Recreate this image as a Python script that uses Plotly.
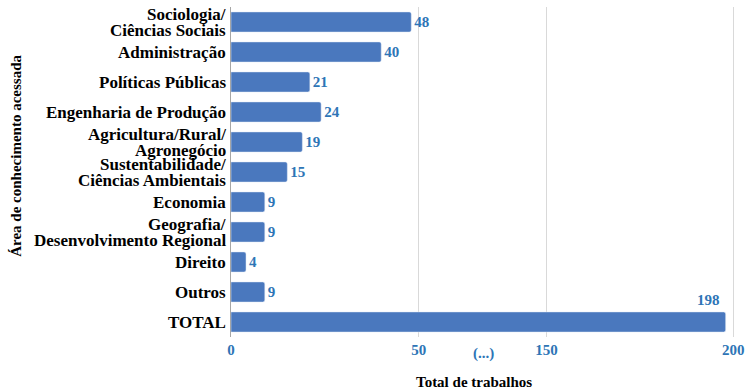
import plotly.graph_objects as go

categories = [
    "Sociologia/<br>Ciências Sociais",
    "Administração",
    "Políticas Públicas",
    "Engenharia de Produção",
    "Agricultura/Rural/<br>Agronegócio",
    "Sustentabilidade/<br>Ciências Ambientais",
    "Economia",
    "Geografia/<br>Desenvolvimento Regional",
    "Direito",
    "Outros",
    "TOTAL",
]
values = [48, 40, 21, 24, 19, 15, 9, 9, 4, 9, 198]
left_ticks = [0, 50]
right_ticks = [150, 200]
break_label = "(...)"

BAR = "#4A78BE"
BLUE = "#2E75B6"
SERIF = "Liberation Serif"

total_idx = categories.index("TOTAL")
texts = [str(v) if i != total_idx else "" for i, v in enumerate(values)]

fig = go.Figure()
fig.add_trace(go.Bar(
    x=values, y=categories, orientation="h", xaxis="x", yaxis="y",
    marker=dict(color=BAR, cornerradius=2), width=0.67,
    text=texts, textposition="outside", cliponaxis=False,
    textfont=dict(family=SERIF, size=15, color=BLUE, weight="bold"),
    hoverinfo="x+y", showlegend=False,
))
fig.add_trace(go.Bar(
    x=[values[total_idx]], y=[categories[total_idx]], orientation="h",
    xaxis="x2", yaxis="y",
    marker=dict(color=BAR, cornerradius=2), width=0.67,
    hoverinfo="x+y", showlegend=False,
))

# category labels, one text per line, placed on the category scale
LINE = 16
for cat in categories:
    lines = cat.split("<br>")
    n = len(lines)
    for j, ln in enumerate(lines):
        shift = ((n - 1) / 2 - j) * LINE
        fig.add_annotation(
            x=0, y=cat, xref="paper", yref="y", xanchor="right", yanchor="middle",
            xshift=-3, yshift=shift, text=ln, showarrow=False,
            font=dict(family=SERIF, size=17, color="black", weight="bold"),
        )

fig.add_annotation(
    x=values[total_idx], y=categories[total_idx], xref="x2", yref="y",
    text=str(values[total_idx]), showarrow=False, yshift=22, xanchor="right", xshift=-4,
    font=dict(family=SERIF, size=15, color=BLUE, weight="bold"),
)
fig.add_annotation(
    x=0.5, y=0, xref="paper", yref="paper", yanchor="middle", yshift=-16,
    text=break_label, showarrow=False,
    font=dict(family=SERIF, size=15, color=BLUE, weight="bold"),
)
fig.add_annotation(
    x=0.483, y=0, xref="paper", yref="paper", yanchor="middle", yshift=-45,
    text="Total de trabalhos", showarrow=False,
    font=dict(family=SERIF, size=15, color="black", weight="bold"),
)
fig.add_annotation(
    x=-0.426, y=0.55, xref="paper", yref="paper", xanchor="center", yanchor="middle",
    text="Área de conhecimento acessada", textangle=-90, showarrow=False,
    font=dict(family=SERIF, size=15, color="black", weight="bold"),
)

tickfont = dict(family=SERIF, size=15, color=BLUE, weight="bold")
fig.update_layout(
    width=746, height=391,
    margin=dict(l=231, r=11, t=7, b=54, autoexpand=False),
    paper_bgcolor="white", plot_bgcolor="white",
    xaxis=dict(domain=[0, 0.5], range=[0, 67.1], tickvals=left_ticks,
               showgrid=True, gridcolor="#D9D9D9", gridwidth=1,
               zeroline=False, showline=False, ticks="", ticklabelstandoff=2,
               tickfont=tickfont, anchor="y", fixedrange=True, automargin=False),
    xaxis2=dict(domain=[0.5, 1], range=[133, 200.5], tickvals=right_ticks,
                showgrid=True, gridcolor="#D9D9D9", gridwidth=1,
                zeroline=False, showline=False, ticks="", ticklabelstandoff=2,
                tickfont=tickfont, anchor="y", fixedrange=True, automargin=False),
    yaxis=dict(type="category", categoryorder="array", categoryarray=categories,
               range=[len(categories) - 0.5, -0.5], autorange=False,
               showline=True, linecolor="#A6A6A6",
               linewidth=1, ticks="", showgrid=False, anchor="x",
               showticklabels=False, automargin=False, fixedrange=True),
)

fig.write_html("out.html", config={"displayModeBar": False},
               post_script="document.body.style.margin='0';")
